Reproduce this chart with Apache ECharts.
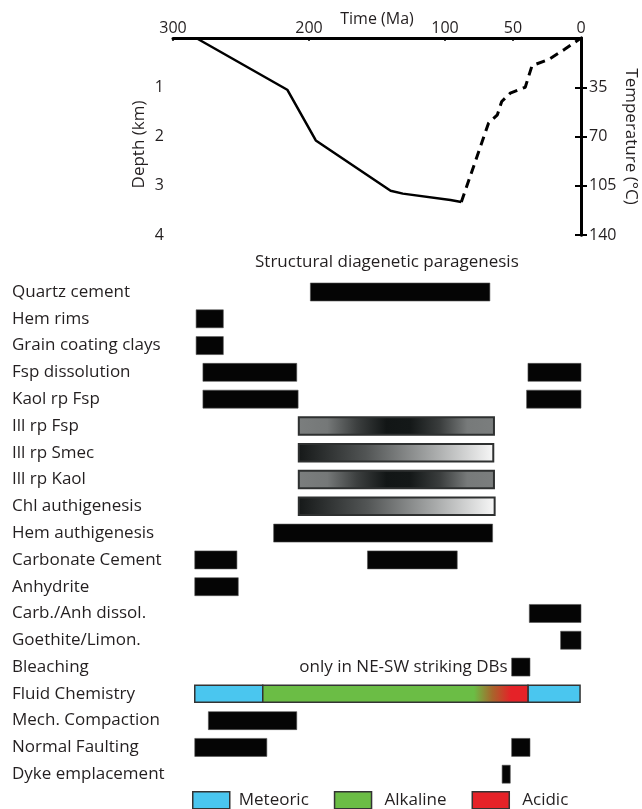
<!DOCTYPE html>
<html>
<head>
<meta charset="utf-8">
<title>Burial history and paragenesis</title>
<script src="https://cdn.jsdelivr.net/npm/echarts@6/dist/echarts.min.js"></script>
<style>
  html, body { margin: 0; padding: 0; background: #fff; }
  #chart { width: 642px; height: 809px; }
</style>
</head>
<body>
<div id="chart"></div>
<script>
// burial curve (time Ma, depth km)
const timeTicks = [300, 200, 100, 50, 0];
const depthTicks = [1, 2, 3, 4];
const tempTicks = [35, 70, 105, 140];

const burialSolid = [[283, 0], [216, 1.05], [195, 2.08], [140, 3.1], [131, 3.16], [96, 3.29], [88, 3.33]];
const burialDashed = [[88, 3.33], [68, 1.73], [61.5, 1.56], [58.3, 1.29], [52, 1.12], [41, 1.0], [36, 0.56], [24, 0.44], [12, 0.23], [0, 0]];

// paragenesis rows
const rows = ['Quartz cement', 'Hem rims', 'Grain coating clays', 'Fsp dissolution', 'Kaol rp Fsp',
  'Ill rp Fsp', 'Ill rp Smec', 'Ill rp Kaol', 'Chl authigenesis', 'Hem authigenesis',
  'Carbonate Cement', 'Anhydrite', 'Carb./Anh dissol.', 'Goethite/Limon.', 'Bleaching',
  'Fluid Chemistry', 'Mech. Compaction', 'Normal Faulting', 'Dyke emplacement'];

// [row, from Ma, to Ma]
const solidBars = [
  ['Quartz cement', 199, 67],
  ['Hem rims', 283, 263],
  ['Grain coating clays', 283, 263],
  ['Fsp dissolution', 278, 209], ['Fsp dissolution', 39, 0],
  ['Kaol rp Fsp', 278, 208], ['Kaol rp Fsp', 40, 0],
  ['Hem authigenesis', 226, 65],
  ['Carbonate Cement', 284, 253], ['Carbonate Cement', 157, 91],
  ['Anhydrite', 284, 252],
  ['Carb./Anh dissol.', 38, 0],
  ['Goethite/Limon.', 15, 0],
  ['Bleaching', 51, 37.5],
  ['Mech. Compaction', 274, 209],
  ['Normal Faulting', 284, 231], ['Normal Faulting', 51, 37.5],
  ['Dyke emplacement', 58, 52]
];
const peakBars = [['Ill rp Fsp', 207.5, 64], ['Ill rp Kaol', 207.5, 64]];
const fadeBars = [['Ill rp Smec', 207.5, 64.5], ['Chl authigenesis', 207.5, 63.5]];

const meteoricSpans = [['Fluid Chemistry', 284, 234], ['Fluid Chemistry', 39, 0.7]];
const alkalineSpans = [['Fluid Chemistry', 234, 39]];
const acidicSpans = [];
const alkalineFadeFrom = 79;
const acidicFrom = 52;

const notes = [['Bleaching', 51, 'only in NE-SW striking DBs']];

const ink = '#231f20';
const font = 'Open Sans';
const colMeteoric = '#4ac6ef';
const colAlkaline = '#6bbd45';
const colAcidic = '#e52228';

const chart = echarts.init(document.getElementById('chart'));

function spanRect(api, h) {
  const row = api.value(0);
  const p0 = api.coord([api.value(1), row]);
  const p1 = api.coord([api.value(2), row]);
  return { x: p0[0], y: p0[1] - h / 2, width: p1[0] - p0[0], height: h };
}

function barSeries(name, data, height, styleFn) {
  return {
    name: name,
    type: 'custom',
    xAxisIndex: 1,
    yAxisIndex: 2,
    encode: { x: [1, 2], y: 0 },
    data: data,
    renderItem: function (params, api) {
      return { type: 'rect', shape: spanRect(api, height), style: styleFn(api) };
    }
  };
}

const peakFill = new echarts.graphic.LinearGradient(0, 0, 1, 0, [
  { offset: 0, color: '#7b7e7e' }, { offset: 0.15, color: '#757878' },
  { offset: 0.3, color: '#3c3f3f' }, { offset: 0.45, color: '#121616' },
  { offset: 0.57, color: '#141818' }, { offset: 0.72, color: '#3a3d3d' },
  { offset: 0.86, color: '#777a7a' }, { offset: 1, color: '#7b7e7e' }
]);
const fadeFill = new echarts.graphic.LinearGradient(0, 0, 1, 0, [
  { offset: 0, color: '#151818' }, { offset: 0.35, color: '#525555' },
  { offset: 0.7, color: '#a9abab' }, { offset: 1, color: '#f8f8f8' }
]);

const alk = alkalineSpans[0];
const fadeStop = (alk[1] - alkalineFadeFrom) / (alk[1] - alk[2]);
const acidStop = (alk[1] - acidicFrom) / (alk[1] - alk[2]);
const alkalineFill = new echarts.graphic.LinearGradient(0, 0, 1, 0, [
  { offset: 0, color: colAlkaline }, { offset: fadeStop, color: colAlkaline },
  { offset: (fadeStop + acidStop) / 2, color: '#a8652b' },
  { offset: acidStop, color: colAcidic }, { offset: 1, color: colAcidic }
]);

const option = {
  animation: false,
  textStyle: { fontFamily: font, color: ink },
  title: {
    text: 'Structural diagenetic paragenesis',
    left: 250,
    top: 249,
    textStyle: { fontFamily: font, fontSize: 17, fontWeight: 'normal', color: ink }
  },
  legend: {
    left: 187,
    top: 786,
    itemWidth: 37,
    itemHeight: 17,
    itemGap: 25,
    selectedMode: false,
    textStyle: { fontFamily: font, fontSize: 17, color: ink },
    data: [
      { name: 'Meteoric', icon: 'rect', textStyle: { padding: [0, 0, 0, 4] },
        itemStyle: { color: colMeteoric, borderColor: '#333', borderWidth: 1.5 } },
      { name: 'Alkaline', icon: 'rect', textStyle: { padding: [0, 0, 0, 8] },
        itemStyle: { color: colAlkaline, borderColor: '#333', borderWidth: 1.5 } },
      { name: 'Acidic', icon: 'rect', textStyle: { padding: [0, 0, 0, 8] },
        itemStyle: { color: colAcidic, borderColor: '#333', borderWidth: 1.5 } }
    ]
  },
  grid: [
    { left: 173, right: 61, top: 38, height: 197, outerBoundsMode: 'none' },
    { left: 173, right: 61, top: 278.6, height: 509, outerBoundsMode: 'none' }
  ],
  xAxis: [
    {
      gridIndex: 0,
      type: 'value',
      position: 'top',
      min: 0,
      max: 300,
      inverse: true,
      name: 'Time (Ma)',
      nameLocation: 'middle',
      nameGap: 11,
      nameMoveOverlap: false,
      nameTextStyle: { fontFamily: font, fontSize: 16, color: ink },
      axisLine: { lineStyle: { color: '#000', width: 3 } },
      axisTick: { inside: true, length: 3, customValues: timeTicks, lineStyle: { color: '#000', width: 1.5 } },
      axisLabel: { customValues: timeTicks, margin: 2, fontFamily: font, fontSize: 16, color: ink },
      splitLine: { show: false }
    },
    {
      gridIndex: 1,
      type: 'value',
      min: 0,
      max: 300,
      inverse: true,
      show: false
    }
  ],
  yAxis: [
    {
      gridIndex: 0,
      type: 'value',
      min: 0,
      max: 4,
      interval: 1,
      inverse: true,
      name: 'Depth (km)',
      nameLocation: 'middle',
      nameRotate: 90,
      nameGap: 25,
      nameMoveOverlap: false,
      nameTextStyle: { fontFamily: font, fontSize: 17, color: ink, padding: [0, 16, 0, 0] },
      axisLine: { show: true, lineStyle: { color: '#000', width: 3 } },
      axisTick: { show: true, length: 6, customValues: depthTicks, lineStyle: { color: '#000', width: 2 } },
      axisLabel: { customValues: depthTicks, margin: 9, fontFamily: font, fontSize: 16, color: ink },
      splitLine: { show: false }
    },
    {
      gridIndex: 0,
      type: 'value',
      position: 'right',
      min: 0,
      max: 140,
      interval: 35,
      inverse: true,
      name: 'Temperature (°C)',
      nameLocation: 'middle',
      nameRotate: -90,
      nameGap: 41,
      nameMoveOverlap: false,
      nameTextStyle: { fontFamily: font, fontSize: 17, color: ink },
      axisLine: { show: true, lineStyle: { color: '#000', width: 3 } },
      axisTick: { show: true, length: 6, customValues: tempTicks, lineStyle: { color: '#000', width: 2 } },
      axisLabel: { customValues: tempTicks, margin: 8, fontFamily: font, fontSize: 16, color: ink },
      splitLine: { show: false }
    },
    {
      gridIndex: 1,
      type: 'category',
      inverse: true,
      data: rows,
      axisLine: { show: false },
      axisTick: { show: false },
      axisLabel: { align: 'left', margin: 161, fontFamily: font, fontSize: 17, color: ink },
      splitLine: { show: false }
    }
  ],
  series: [
    {
      name: 'Burial',
      type: 'line',
      xAxisIndex: 0,
      yAxisIndex: 0,
      data: burialSolid,
      symbol: 'none',
      lineStyle: { color: '#000', width: 2.5 }
    },
    {
      name: 'Uplift',
      type: 'line',
      xAxisIndex: 0,
      yAxisIndex: 0,
      data: burialDashed,
      symbol: 'none',
      lineStyle: { color: '#000', width: 3, type: [9, 6] }
    },
    barSeries('Events', solidBars, 18, function () {
      return { fill: '#050505', stroke: '#555', lineWidth: 0.6 };
    }),
    barSeries('Illite peak', peakBars, 17.5, function () {
      return { fill: peakFill, stroke: '#2e3030', lineWidth: 2 };
    }),
    barSeries('Illite fade', fadeBars, 17.5, function () {
      return { fill: fadeFill, stroke: '#2e3030', lineWidth: 2 };
    }),
    barSeries('Meteoric', meteoricSpans, 17, function () {
      return { fill: colMeteoric, stroke: '#333', lineWidth: 1.5 };
    }),
    barSeries('Alkaline', alkalineSpans, 17, function () {
      return { fill: alkalineFill, stroke: '#333', lineWidth: 1.5 };
    }),
    barSeries('Acidic', acidicSpans, 17, function () {
      return { fill: colAcidic, stroke: '#333', lineWidth: 1.5 };
    }),
    {
      name: 'Notes',
      type: 'custom',
      xAxisIndex: 1,
      yAxisIndex: 2,
      encode: { x: 1, y: 0 },
      data: notes,
      renderItem: function (params, api) {
        const p = api.coord([api.value(1), api.value(0)]);
        return {
          type: 'text',
          x: p[0] - 4,
          y: p[1],
          style: {
            text: notes[params.dataIndex][2],
            fontFamily: font,
            fontSize: 17,
            fill: ink,
            align: 'right',
            verticalAlign: 'middle'
          }
        };
      }
    }
  ]
};

chart.setOption(option);
</script>
</body>
</html>
